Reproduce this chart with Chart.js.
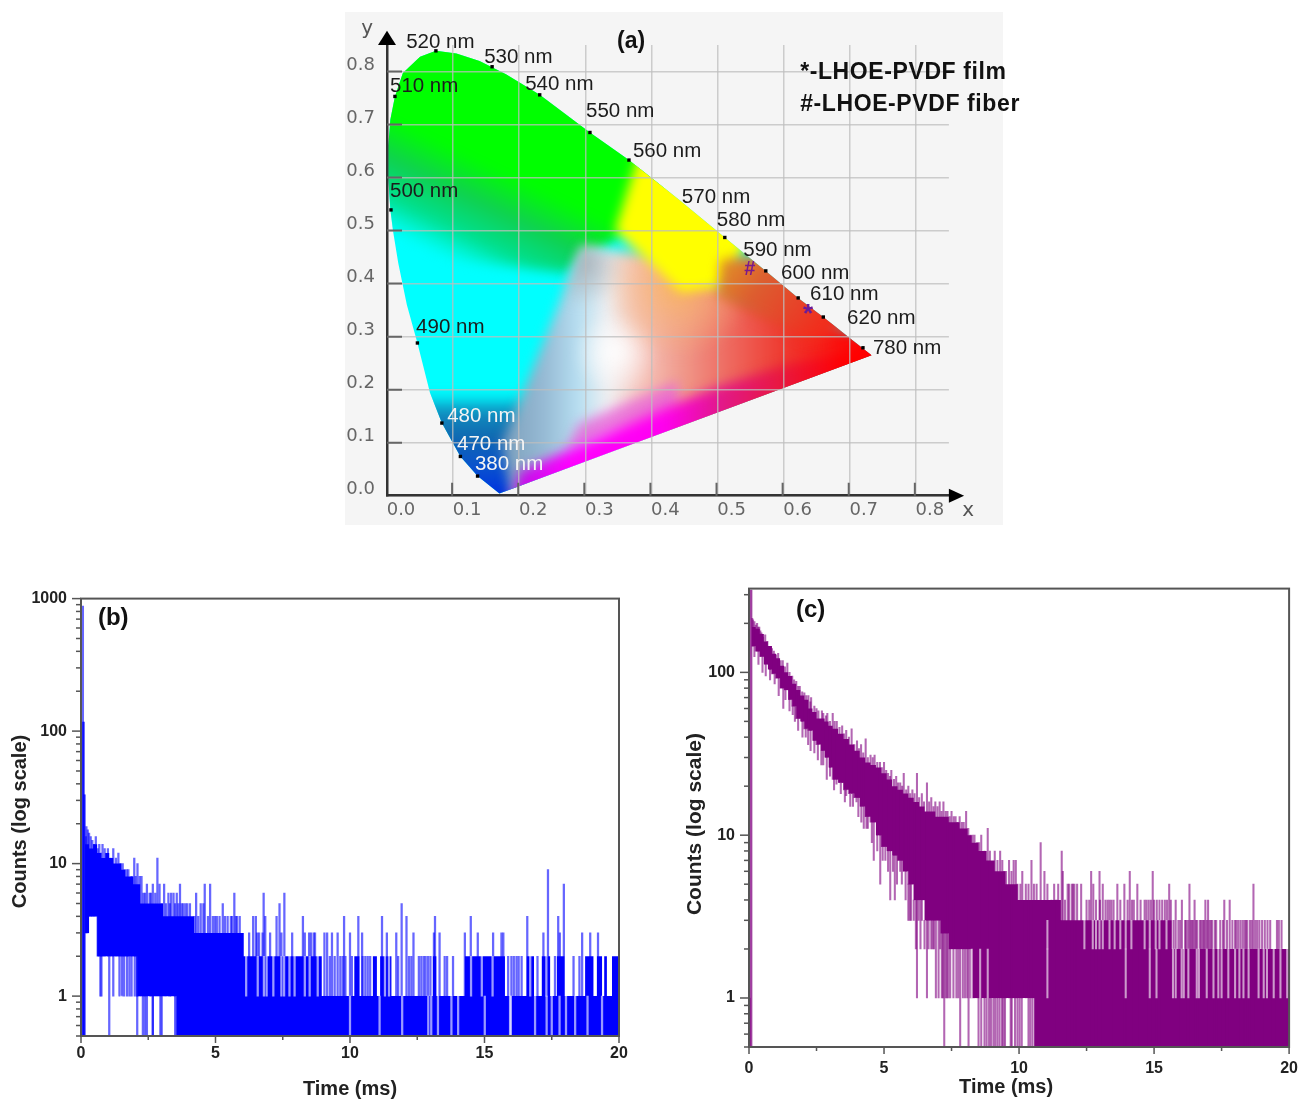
<!DOCTYPE html>
<html>
<head>
<meta charset="utf-8">
<title>CIE diagram and decay curves</title>
<script src="https://cdn.jsdelivr.net/npm/chart.js@4/dist/chart.umd.js"></script>
<style>
  html, body { margin: 0; padding: 0; background: #ffffff; }
  body { position: relative; width: 1299px; height: 1100px; overflow: hidden; }
  canvas { position: absolute; filter: blur(0.5px); }
  #cieBack { position: absolute; left: 345px; top: 12px; width: 658px; height: 513px; background: #f5f5f5; }
  #cieChart { left: 345px; top: 12px; }
  #decayFiber { left: 0; top: 575px; }
  #decayFilm { left: 680px; top: 565px; }
</style>
</head>
<body>
<div id="cieBack"></div>
<canvas id="cieChart" width="700" height="513"></canvas>
<canvas id="decayFiber" width="650" height="525"></canvas>
<canvas id="decayFilm" width="630" height="535"></canvas>
<script>
// (a) CIE diagram in chromaticity coordinates
const locusX = [0.170, 0.137, 0.111, 0.083, 0.065, 0.046, 0.030, 0.017, 0.009, 0.005, 0.002, 0.002, 0.005, 0.012, 0.024, 0.050, 0.074, 0.105, 0.140, 0.180, 0.231, 0.307, 0.366, 0.440, 0.511, 0.573, 0.622, 0.660, 0.733];
const locusY = [0.004, 0.037, 0.074, 0.137, 0.194, 0.288, 0.360, 0.439, 0.500, 0.540, 0.600, 0.660, 0.709, 0.753, 0.797, 0.828, 0.839, 0.834, 0.820, 0.795, 0.756, 0.685, 0.633, 0.560, 0.487, 0.424, 0.373, 0.337, 0.265];
const dotX = [0.137, 0.111, 0.083, 0.046, 0.006, 0.012, 0.074, 0.159, 0.231, 0.307, 0.366, 0.511, 0.573, 0.622, 0.660, 0.720];
const dotY = [0.037, 0.074, 0.137, 0.288, 0.539, 0.753, 0.839, 0.809, 0.756, 0.685, 0.633, 0.487, 0.424, 0.373, 0.337, 0.279];
const nmNames = ["510 nm", "500 nm", "490 nm", "520 nm", "530 nm", "540 nm", "550 nm", "560 nm", "570 nm", "580 nm", "590 nm", "600 nm", "610 nm", "620 nm", "780 nm"];
const nmX = [0.0045, 0.0045, 0.044, 0.029, 0.147, 0.209, 0.301, 0.372, 0.446, 0.499, 0.539, 0.596, 0.640, 0.696, 0.735];
const nmY = [0.775, 0.577, 0.322, 0.858, 0.830, 0.779, 0.728, 0.654, 0.567, 0.524, 0.467, 0.424, 0.384, 0.339, 0.281];
const nmWhiteNames = ["480 nm", "470 nm", "380 nm"];
const nmWhiteX = [0.091, 0.106, 0.133];
const nmWhiteY = [0.154, 0.101, 0.062];
const cieTicks = [0, 0.1, 0.2, 0.3, 0.4, 0.5, 0.6, 0.7, 0.8];
const filmPoint = [0.637, 0.350];
const fiberPoint = [0.549, 0.431];

// colour patches of the diagram
const baseX = [-0.1, -0.1, 0.9, 0.9];
const baseY = [-0.1, 0.95, 0.95, -0.1];
const greenX = [-0.1, -0.1, 0.42, 0.42, 0.33, 0.27];
const greenY = [0.47, 0.95, 0.95, 0.55, 0.47, 0.42];
const blueX = [0.02, 0.13, 0.21, 0.205, 0.11];
const blueY = [0.19, -0.05, -0.05, 0.19, 0.19];
const wedgeX = [0.295, 0.40, 0.53, 0.80, 0.80, 0.19, 0.175];
const wedgeY = [0.47, 0.45, 0.38, 0.27, 0.15, -0.02, 0.10];
const yellowX = [0.345, 0.385, 0.56, 0.515, 0.445];
const yellowY = [0.50, 0.66, 0.53, 0.395, 0.385];
const orangeX = [0.505, 0.60, 0.72, 0.64, 0.50];
const orangeY = [0.445, 0.46, 0.33, 0.29, 0.375];
const magentaX = [0.19, 0.20, 0.29, 0.42, 0.50, 0.60, 0.70, 0.80, 0.80, 0.17];
const magentaY = [0.0, 0.045, 0.095, 0.165, 0.205, 0.245, 0.27, 0.30, 0.1, -0.05];
const pinkX = [0.27, 0.29, 0.36, 0.44, 0.44, 0.36];
const pinkY = [0.085, 0.135, 0.175, 0.215, 0.16, 0.12];

// (b) LHOE-PVDF fiber decay: solid band of the trace, counts between bandLow and bandTop
const fiberBandT = [0.15, 0.3, 0.45, 0.6, 0.75, 0.9, 1.05, 1.2, 1.35, 1.5, 1.65, 1.8, 1.95, 2.1, 2.2, 2.9, 3.05, 3.55, 4.2, 6.05, 8.95, 10.16, 10.35, 10.85, 11.0, 11.12, 11.54, 13.08, 13.21, 14.27, 15.76, 16.57, 16.84, 17.13, 17.44, 17.69, 17.97, 18.74, 19.05, 19.18, 19.37, 19.45, 19.55, 19.74, 20];
const fiberBandTop = [14, 13, 14, 12, 11, 12, 11, 10, 10, 9, 8, 8, 7, 7, 5, 5, 4, 4, 3, 2, 1, 2, 1, 2, 1, 2, 1, 2, 1, 2, 1, 2, 1, 2, 1, 2, 1, 2, 1, 2, 1, 2, 1, 2, 2];
const fiberBandLow = [3, 4, 4, 2, 2, 2, 2, 2, 2, 2, 2, 2, 2, 1, 1, 1, 1, 0.5, 0.5, 0.5, 0.5, 0.5, 0.5, 0.5, 0.5, 0.5, 0.5, 0.5, 0.5, 0.5, 0.5, 0.5, 0.5, 0.5, 0.5, 0.5, 0.5, 0.5, 0.5, 0.5, 0.5, 0.5, 0.5, 0.5, 0.5];
// single channels standing above the band
const fiberSpikeT = [0.07, 0.08, 0.1, 0.12, 0.13, 0.2, 0.3, 0.42, 0.55, 0.68, 0.8, 1.0, 1.2, 1.39, 1.55, 1.7, 1.98, 2.1, 2.25, 2.45, 2.55, 2.67, 2.84, 2.92, 3.09, 3.25, 3.35, 3.44, 3.56, 3.68, 3.8, 3.95, 4.28, 4.45, 4.55, 4.6, 4.8, 5.05, 5.15, 5.27, 5.45, 5.57, 5.7, 5.8, 5.9, 6.25, 6.4, 6.5, 6.55, 6.75, 6.79, 6.85, 7.03, 7.27, 7.38, 7.45, 7.56, 8.25, 8.32, 8.48, 8.55, 8.65, 8.7, 9.05, 9.15, 9.33, 9.54, 9.78, 10, 10.31, 10.45, 11.19, 11.37, 11.72, 11.92, 12.1, 12.36, 13.12, 13.16, 13.33, 14.27, 14.49, 14.75, 15.32, 15.63, 15.7, 16.59, 17.19, 17.36, 17.74, 17.8, 17.95, 18.63, 18.93, 19.22, 9.25, 9.43, 9.64, 9.73, 9.83, 10.07, 10.47, 10.57, 10.66, 10.75, 11.79, 12.19, 12.28, 12.56, 12.65, 12.74, 12.81, 12.9, 12.99, 13.52, 13.61, 13.83, 15.88, 16.0, 16.09, 16.19, 16.27, 16.38, 16.97, 17.62, 18.31, 18.53];
const fiberSpikeTop = [880, 117, 117, 33, 33, 19, 17, 15, 16, 14, 14, 13, 13, 12, 10, 9, 11, 10, 8, 7, 6, 7, 11, 7, 7, 6, 6, 6, 6, 7, 5, 5, 6, 5, 5, 7, 7, 4, 4, 5, 4, 4, 6, 4, 4, 3, 4, 4, 3, 3, 6, 4, 3, 4, 5, 3, 6, 4, 3, 3, 3, 3, 3, 3, 3, 3, 3, 4, 3, 4, 3, 4, 3, 3, 5, 4, 3, 3, 4, 3, 3, 4, 3, 3, 3, 3, 4, 3, 9, 4, 3, 7, 3, 3, 3, 2, 2, 2, 2, 2, 2, 2, 2, 2, 2, 2, 2, 2, 2, 2, 2, 2, 2, 2, 2, 2, 2, 2, 2, 2, 2, 2, 2, 2, 2, 2, 2];
const fiberEdgeT = [0.18, 0.25, 0.36, 0.48, 0.62, 0.74, 0.88, 1.1, 1.3, 1.47, 1.62, 1.76, 1.88, 2.03, 2.18, 2.32, 2.38, 2.6, 2.76, 3.0, 3.16, 3.3, 3.5, 3.62, 3.74, 3.88, 4.05, 4.22, 4.36, 4.72, 4.9, 4.98, 5.35, 5.62, 5.75, 6.62, 7.85];
const fiberEdgeTop = [16, 18, 16, 14, 13, 12, 13, 11, 11, 10, 9, 9, 8, 8, 8, 6, 6, 6, 6, 5, 5, 5, 5, 5, 5, 5, 5, 4, 4, 4, 4, 4, 4, 4, 4, 3, 3];
// channels dropping below the band
const fiberDipT = [0.72, 0.76, 1.05, 1.2, 1.43, 1.52, 1.6, 1.71, 1.8, 1.88, 2.0, 2.09, 2.09, 2.3, 2.38, 2.45, 2.67, 2.67, 2.95, 3.0, 3.5];
const fiberDipLow = [1, 1, 0.5, 1, 1, 1, 1, 1, 1, 1, 1, 1, 0.5, 0.5, 0.5, 0.5, 0.5, 0.5, 0.5, 0.5, 0.5];
// empty channels cut into the band
const fiberGapMidT = [6.14, 6.57, 6.8, 6.9, 7.15, 7.45, 7.55, 7.75, 7.94, 8.32, 8.5, 8.8, 11.3, 11.45, 14.5, 14.9, 15.3, 16.7, 17.3];
const fiberGapBaseT = [1.35, 1.5, 10.0, 11.1, 11.94, 12.91, 13.02, 13.27, 13.77, 14.02, 15.01, 15.95, 15.98, 16.88, 17.31, 17.5, 17.79, 18.03, 18.37, 18.83, 19.37];

// (c) LHOE-PVDF film decay
const filmBandT = [0.1, 0.25, 0.4, 0.55, 0.7, 0.85, 1.0, 1.15, 1.3, 1.45, 1.6, 1.75, 1.9, 2.05, 2.2, 2.35, 2.5, 2.65, 2.8, 2.95, 3.1, 3.3, 3.5, 3.7, 3.9, 4.1, 4.3, 4.5, 4.7, 4.9, 5.1, 5.3, 5.5, 5.7, 5.9, 6.1, 6.3, 6.5, 6.7, 6.9, 7.1, 7.4, 7.8, 8.1, 8.25, 8.5, 8.8, 9.1, 9.5, 9.95, 10.56, 10.85, 11.55, 15.65, 20];
const filmBandTop = [190, 185, 172, 155, 145, 130, 122, 110, 100, 95, 85, 78, 72, 68, 60, 57, 52, 52, 50, 47, 45, 42, 39, 36, 33, 30, 28, 27, 26, 24, 22, 20, 19, 18, 17, 16, 15, 14, 14, 13, 13, 12, 11, 10, 9, 8, 7, 6, 5, 4, 4, 4, 3, 2, 2];
const filmBandLow = [145, 135, 125, 112, 104, 98, 92, 80, 78, 68, 62, 52, 50, 45, 44, 38, 36, 33, 30, 26, 22, 21, 19, 18, 17, 15, 13, 12, 10, 8.5, 8, 7.5, 7, 6, 5, 4, 4, 3, 3, 3, 2.5, 2, 2, 2, 1, 1, 1, 1, 1, 1, 0.5, 0.5, 0.5, 0.5, 0.5];
const filmSpikeT = [0.03, 0.06, 0.09, 0.15, 0.2, 0.3, 0.38, 0.46, 0.6, 0.78, 0.92, 1.08, 1.25, 1.42, 1.6, 1.75, 1.88, 2.05, 2.2, 2.3, 2.5, 2.7, 2.9, 3.1, 3.25, 3.45, 3.6, 3.8, 4.0, 4.15, 4.32, 4.5, 4.65, 4.85, 5.0, 5.15, 5.27, 5.45, 5.6, 5.73, 5.9, 6.05, 6.22, 6.4, 6.59, 6.75, 6.9, 7.06, 7.2, 7.35, 7.5, 7.65, 7.8, 7.95, 8.04, 8.2, 8.35, 8.6, 8.84, 9.1, 9.3, 9.44, 9.63, 9.8, 9.88, 10.12, 10.46, 10.8, 10.94, 11.05, 11.3, 11.45, 11.58, 11.62, 11.8, 11.85, 11.95, 12.0, 12.05, 12.15, 12.3, 12.67, 12.75, 12.85, 12.98, 13.1, 13.2, 13.35, 13.5, 13.64, 13.75, 13.9, 14.1, 14.25, 14.38, 14.5, 14.65, 14.8, 14.95, 15.1, 15.3, 15.56, 15.8, 16.03, 16.25, 16.31, 16.4, 16.5, 16.6, 16.85, 16.9, 17.0, 17.1, 17.25, 17.6, 17.8, 18.0, 18.12, 18.2, 18.35, 18.45, 18.55, 18.68, 18.75, 19.1, 19.55, 19.72];
const filmSpikeTop = [1, 320, 320, 210, 205, 200, 190, 175, 170, 140, 135, 131, 118, 114, 95, 88, 82, 75, 72, 70, 60, 58, 56, 56, 50, 47, 44, 45, 38, 36, 39, 31, 31, 28, 28, 24, 25, 23, 21, 24, 20, 19, 24, 18, 21, 17, 16, 16, 16, 14, 14, 13, 13, 12, 14, 10, 10, 10, 11, 8, 8, 6, 7, 7, 7, 6, 7, 9, 6, 5, 5, 5, 8, 6, 5, 5, 5, 5, 5, 5, 5, 6, 5, 4, 6, 5, 4, 4, 4, 5, 4, 5, 6, 4, 5, 4, 4, 4, 6, 4, 4, 5, 4, 4, 3, 5, 3, 4, 3, 3, 4, 4, 3, 3, 4, 4, 3, 3, 3, 3, 3, 3, 5, 3, 3, 3, 3];
const filmEdgeT = [0.12, 0.25, 0.34, 0.42, 0.52, 0.68, 0.85, 1.0, 1.17, 1.33, 1.5, 1.67, 1.82, 1.97, 2.12, 2.27, 2.42, 2.57, 2.75, 2.85, 3.0, 3.17, 3.35, 3.52, 3.7, 3.9, 4.07, 4.23, 4.4, 4.58, 4.75, 4.92, 5.08, 5.22, 5.37, 5.52, 5.67, 5.82, 5.97, 6.13, 6.3, 6.48, 6.67, 6.83, 6.98, 7.13, 7.28, 7.43, 7.58, 7.72, 7.88, 8.12, 8.28, 8.45, 8.52, 8.72, 8.92, 9.2, 9.38, 9.52, 9.72, 9.94, 10.05, 10.25, 10.35, 10.55, 10.65, 11.2, 11.35, 11.4, 11.7, 12.5, 12.6, 13.0, 13.28, 13.42, 14.02, 14.18, 14.72, 14.88, 15.0, 15.2, 15.4, 15.48, 15.62, 15.72, 15.9, 15.97, 16.15, 16.18, 16.35, 16.45, 16.55, 16.7, 16.75, 16.8, 16.95, 17.05, 17.15, 17.3, 17.45, 17.55, 17.7, 17.9, 18.05, 18.28, 18.4, 18.62, 18.82, 18.9, 19.0, 19.2, 19.3, 19.62];
const filmEdgeTop = [215, 195, 190, 180, 165, 155, 140, 128, 118, 108, 100, 90, 82, 76, 72, 66, 62, 58, 56, 54, 50, 50, 46, 42, 40, 36, 34, 32, 30, 30, 28, 26, 25, 23, 22, 21, 20, 19, 18, 18, 17, 16, 16, 15, 15, 14, 14, 13, 13, 12, 12, 11, 10, 9, 9, 8, 8, 7, 7, 6, 6, 5, 5, 5, 5, 5, 5, 4, 4, 4, 4, 4, 4, 4, 4, 4, 4, 4, 4, 4, 4, 4, 4, 4, 4, 3, 3, 3, 3, 3, 3, 3, 3, 3, 3, 3, 3, 3, 3, 3, 3, 3, 3, 3, 3, 3, 3, 3, 3, 3, 3, 3, 3, 3];
const filmDipT = [1.27, 1.7, 2.19, 2.68, 3.24, 3.6, 3.98, 4.16, 4.4, 4.62, 4.86, 5.05, 5.23, 5.4, 5.6, 5.9, 6.0, 6.18, 6.22, 6.4, 6.59, 6.8, 6.92, 7.02, 7.14, 7.23, 7.33, 7.57, 7.82, 8.0, 8.13, 8.5, 8.6, 8.72, 8.8, 8.89, 8.96, 9.05, 9.12, 9.2, 9.28, 9.37, 9.42, 9.48, 9.69, 9.73, 9.85, 9.94, 10.02, 10.1, 10.35, 10.42, 10.5];
const filmDipLow = [60, 50, 36, 27, 20.6, 17.5, 16, 12, 11, 7, 5, 7, 4, 4, 6, 3, 3, 2, 1, 3, 1, 2, 1, 1, 1, 0.5, 1, 1, 0.5, 1, 0.5, 0.5, 0.5, 0.5, 0.5, 0.5, 0.5, 0.5, 0.5, 0.5, 0.5, 0.5, 0.5, 0.5, 0.5, 0.5, 0.5, 0.5, 0.5, 0.5, 0.5, 0.5, 0.5];
const filmEdgeDipT = [0.2, 0.35, 0.5, 0.62, 0.78, 0.95, 1.1, 1.35, 1.5, 1.62, 1.82, 1.98, 2.1, 2.28, 2.42, 2.55, 2.75, 2.88, 3.0, 3.15, 3.4, 3.55, 3.75, 3.85, 4.05, 4.25, 4.35, 4.55, 4.75, 4.95, 5.15, 5.33, 5.48, 5.66, 5.8, 5.95, 6.1, 6.28, 6.35, 6.5, 6.65, 6.75, 6.85, 7.08, 7.18, 7.28, 7.38, 7.45, 7.68, 7.75, 7.92, 8.08, 8.2];
const filmEdgeDipLow = [125, 112, 100, 95, 90, 85, 72, 68, 58, 55, 44, 40, 40, 33, 32, 29, 27, 22, 23, 19, 18, 16, 15, 15, 13, 11, 11, 9, 8, 7, 6, 6, 5, 5, 4, 3, 3, 3, 2, 2, 2, 2, 2, 2, 1, 1, 1, 1, 1, 1, 1, 1, 1];
const filmGapUpperT = [11.05, 12.42, 12.73, 12.85, 12.98, 13.1, 13.35, 13.54, 13.75, 13.95, 14.16, 14.65, 14.84, 15.06, 15.2, 15.46];
const filmGapMidT = [8.25, 8.56, 8.84, 11.05, 13.95, 14.84, 15.09, 15.7, 15.8, 16.02, 16.1, 16.27, 16.58, 16.66, 16.95, 17.2, 17.38, 17.5, 17.75, 18.0, 18.16, 18.31, 18.5, 18.87, 19.06, 19.18, 19.43, 19.68, 19.93];

const sansFont = "'Liberation Sans', Arial, sans-serif";

function toPoints(xs, ys) {
  return xs.map((x, i) => ({ x: x, y: ys[i] }));
}

// last band value at or before t, axis minimum before the band starts
function bandLowAt(t, bandT, bandLow) {
  let low = 0.5;
  bandT.forEach((bt, i) => { if (bt <= t) low = bandLow[i]; });
  return low;
}

function linearFill(from, to, stops) {
  return (context) => {
    const chart = context.chart;
    if (!chart.chartArea) return stops[0][1];
    const gradient = chart.ctx.createLinearGradient(
      chart.scales.x.getPixelForValue(from[0]), chart.scales.y.getPixelForValue(from[1]),
      chart.scales.x.getPixelForValue(to[0]), chart.scales.y.getPixelForValue(to[1]));
    stops.forEach((s) => gradient.addColorStop(s[0], s[1]));
    return gradient;
  };
}

function radialFill(center, radius, stops) {
  return (context) => {
    const chart = context.chart;
    if (!chart.chartArea) return stops[0][1];
    const cx = chart.scales.x.getPixelForValue(center[0]);
    const cy = chart.scales.y.getPixelForValue(center[1]);
    const gradient = chart.ctx.createRadialGradient(cx, cy, 0, cx, cy, radius);
    stops.forEach((s) => gradient.addColorStop(s[0], s[1]));
    return gradient;
  };
}

function patch(xs, ys, color) {
  return {
    type: "line",
    data: toPoints(xs, ys),
    borderWidth: 0,
    pointRadius: 0,
    tension: 0,
    fill: "shape",
    backgroundColor: color
  };
}

function drawText(ctx, text, x, y, font, color, align, spacing) {
  ctx.save();
  ctx.font = font;
  ctx.fillStyle = color;
  ctx.textAlign = align || "left";
  ctx.textBaseline = "middle";
  ctx.letterSpacing = spacing || "0px";
  ctx.fillText(text, x, y + 2);
  ctx.restore();
}

// clip and soften the colour patches to the spectral locus; dataset 0 (the dots) draws last, outside of it
const locusClip = {
  id: "locusClip",
  beforeDatasetsDraw(chart) {
    const ctx = chart.ctx;
    const { x, y } = chart.scales;
    ctx.save();
    ctx.beginPath();
    locusX.forEach((lx, i) => {
      ctx.lineTo(x.getPixelForValue(lx), y.getPixelForValue(locusY[i]));
    });
    ctx.closePath();
    ctx.clip();
    ctx.filter = "blur(6px)";
  },
  beforeDatasetDraw(chart, args) {
    if (args.index === 0) chart.ctx.restore();
  }
};

const cieMarks = {
  id: "cieMarks",
  afterDraw(chart) {
    const ctx = chart.ctx;
    const { x, y } = chart.scales;
    const x0 = x.getPixelForValue(0);
    const y0 = y.getPixelForValue(0);
    ctx.save();
    ctx.strokeStyle = "#666666";
    ctx.lineWidth = 2;
    cieTicks.forEach((v) => {
      if (v === 0) return;
      ctx.beginPath();
      ctx.moveTo(x.getPixelForValue(v) - 1, y0);
      ctx.lineTo(x.getPixelForValue(v) - 1, y0 - 13);
      ctx.moveTo(x0, y.getPixelForValue(v));
      ctx.lineTo(x0 + 15, y.getPixelForValue(v));
      ctx.stroke();
    });
    // axis arrows
    ctx.fillStyle = "#000000";
    ctx.beginPath();
    ctx.moveTo(x0, y.getPixelForValue(0.877));
    ctx.lineTo(x0 - 9, y.getPixelForValue(0.85));
    ctx.lineTo(x0 + 9, y.getPixelForValue(0.85));
    ctx.closePath();
    ctx.fill();
    ctx.beginPath();
    ctx.moveTo(x.getPixelForValue(0.873), y0);
    ctx.lineTo(x.getPixelForValue(0.85), y0 - 7);
    ctx.lineTo(x.getPixelForValue(0.85), y0 + 7);
    ctx.closePath();
    ctx.fill();
    ctx.restore();

    const nmFont = "20.5px " + sansFont;
    nmNames.forEach((name, i) => {
      drawText(ctx, name, x.getPixelForValue(nmX[i]), y.getPixelForValue(nmY[i]), nmFont, "#1c1c1c");
    });
    nmWhiteNames.forEach((name, i) => {
      drawText(ctx, name, x.getPixelForValue(nmWhiteX[i]), y.getPixelForValue(nmWhiteY[i]), nmFont, "#f4f4f4");
    });
    const axisFont = "20px 'DejaVu Sans', sans-serif";
    drawText(ctx, "y", x.getPixelForValue(-0.03), y.getPixelForValue(0.884), axisFont, "#555555", "center");
    drawText(ctx, "x", x.getPixelForValue(0.879), y.getPixelForValue(-0.025), axisFont, "#555555", "center");
    drawText(ctx, "(a)", x.getPixelForValue(0.348), y.getPixelForValue(0.86), "bold 23px " + sansFont, "#111111");
    const noteFont = "bold 23px " + sansFont;
    drawText(ctx, "*-LHOE-PVDF film", x.getPixelForValue(0.625), y.getPixelForValue(0.801), noteFont, "#111111", "left", "0.6px");
    drawText(ctx, "#-LHOE-PVDF fiber", x.getPixelForValue(0.625), y.getPixelForValue(0.741), noteFont, "#111111", "left", "0.6px");
    drawText(ctx, "*", x.getPixelForValue(filmPoint[0]), y.getPixelForValue(filmPoint[1]) + 3, "bold 26px " + sansFont, "#6a1b9a", "center");
    drawText(ctx, "#", x.getPixelForValue(fiberPoint[0]), y.getPixelForValue(fiberPoint[1]), "bold 20px " + sansFont, "#7a1a8c", "center");
  }
};

new Chart(document.getElementById("cieChart"), {
  type: "line",
  data: {
    datasets: [
      {
        type: "scatter",
        data: toPoints(dotX, dotY),
        pointStyle: "rect",
        pointRadius: 2.4,
        pointBackgroundColor: "#000000",
        pointBorderWidth: 0,
        showLine: false,
        clip: false
      },
      patch(magentaX, magentaY, linearFill([0.2, 0], [0.72, 0], [
        [0, "#c010e8"], [0.15, "#ff00ff"], [0.42, "#ff00f0"], [0.58, "#e2188c"], [0.76, "#e81840"], [0.95, "#ff0000"], [1, "#ff0000"]
      ])),
      patch(pinkX, pinkY, "rgba(232, 100, 216, 0.8)"),
      patch(orangeX, orangeY, linearFill([0.52, 0.44], [0.66, 0.30], [
        [0, "#e08a28"], [0.3, "#dc5e30"], [0.7, "#e84028"], [1, "#f42818"]
      ])),
      patch(yellowX, yellowY, "#ffff00"),
      patch(baseX, baseY, radialFill([0.44, 0.40], 75, [
        [0, "rgba(250, 185, 90, 0.9)"], [0.5, "rgba(245, 180, 120, 0.55)"], [1, "rgba(245, 180, 120, 0)"]
      ])),
      patch(baseX, baseY, radialFill([0.345, 0.27], 42, [
        [0, "rgba(255, 255, 255, 0.95)"], [1, "rgba(255, 255, 255, 0)"]
      ])),
      patch(wedgeX, wedgeY, radialFill([0.295, 0.44], 45, [
        [0, "rgba(165, 170, 175, 0.85)"], [1, "rgba(165, 170, 175, 0)"]
      ])),
      patch(wedgeX, wedgeY, linearFill([0.17, 0], [0.72, 0], [
        [0, "#7a9cb8"], [0.13, "#98bcd6"], [0.22, "#b8e0f2"], [0.30, "#f0f0f2"], [0.38, "#f6c8c0"], [0.50, "#f09a8c"], [0.63, "#ee6a60"], [0.78, "#ee3a30"], [1, "#ff0000"]
      ])),
      patch(blueX, blueY, linearFill([0, 0.2], [0, 0], [
        [0, "rgba(0, 200, 225, 0)"], [0.2, "#1090c0"], [0.45, "#1068b0"], [0.75, "#0850d0"], [1, "#0030e0"]
      ])),
      patch(greenX, greenY, linearFill([0.03, 0.48], [0.098, 0.658], [
        [0, "rgba(0, 235, 170, 0)"], [0.3, "#00e090"], [0.64, "#10d050"], [1, "#00ff00"]
      ])),
      patch(baseX, baseY, "#00ffff")
    ]
  },
  options: {
    responsive: false,
    animation: false,
    layout: { padding: { top: 33, right: 96.1, left: 0, bottom: 0 } },
    plugins: { legend: { display: false }, tooltip: { enabled: false } },
    scales: {
      x: {
        type: "linear",
        min: 0,
        max: 0.85,
        afterFit(scale) { scale.height = 29.3; },
        afterBuildTicks(scale) { scale.ticks = cieTicks.map((v) => ({ value: v })); },
        border: { color: "#333333", width: 2.5, z: 2 },
        grid: { color: "rgba(190, 190, 190, 0.75)", lineWidth: 1.5, drawTicks: false, z: 1 },
        ticks: {
          color: "#666666",
          font: { family: "'DejaVu Sans', sans-serif", size: 18 },
          padding: 4,
          labelOffset: 14,
          maxRotation: 0,
          autoSkip: false,
          callback(value) { return Number(value).toFixed(1); }
        }
      },
      y: {
        type: "linear",
        min: 0,
        max: 0.85,
        afterFit(scale) { scale.width = 42; },
        afterBuildTicks(scale) { scale.ticks = cieTicks.map((v) => ({ value: v })); },
        border: { color: "#333333", width: 2.5, z: 2 },
        grid: { color: "rgba(190, 190, 190, 0.75)", lineWidth: 1.5, drawTicks: false, z: 1 },
        ticks: {
          color: "#666666",
          font: { family: "'DejaVu Sans', sans-serif", size: 18 },
          padding: 12,
          labelOffset: -6,
          autoSkip: false,
          callback(value) { return Number(value).toFixed(1); }
        }
      }
    }
  },
  plugins: [locusClip, cieMarks]
});

// frame, tick marks and titles of a decay panel, ticks long at decades and multiples of 5, short between
const panelFrame = {
  id: "panelFrame",
  afterDraw(chart, args, opts) {
    const ctx = chart.ctx;
    const area = chart.chartArea;
    const { x, y } = chart.scales;
    ctx.save();
    ctx.strokeStyle = "#555555";
    ctx.lineWidth = 2;
    ctx.strokeRect(area.left, area.top, area.width, area.height);
    ctx.lineWidth = 1.5;
    y.ticks.forEach((tick) => {
      const v = tick.value;
      const exp = Math.floor(Math.log10(v) + 1e-9);
      const lead = v / Math.pow(10, exp);
      if (Math.abs(lead - Math.round(lead)) > 1e-6) return;
      const len = Math.abs(lead - 1) < 1e-6 ? 9 : 5;
      const py = y.getPixelForValue(v);
      ctx.beginPath();
      ctx.moveTo(area.left, py);
      ctx.lineTo(area.left - len, py);
      ctx.stroke();
    });
    x.ticks.forEach((tick) => {
      const len = tick.value % 5 === 0 ? 7 : 4;
      const px = x.getPixelForValue(tick.value);
      ctx.beginPath();
      ctx.moveTo(px, area.bottom);
      ctx.lineTo(px, area.bottom + len);
      ctx.stroke();
    });
    ctx.restore();
    drawText(ctx, opts.label, x.getPixelForValue(opts.labelAt[0]), y.getPixelForValue(opts.labelAt[1]), "bold 24px " + sansFont, "#111111");
    drawText(ctx, "Time (ms)", x.getPixelForValue(opts.xTitleAt), area.bottom + opts.xTitleGap, "bold 20px " + sansFont, "#222222", "center");
    ctx.save();
    ctx.translate(opts.yTitleLeft, y.getPixelForValue(opts.yTitleAt));
    ctx.rotate(-Math.PI / 2);
    drawText(ctx, "Counts (log scale)", 0, 0, "bold " + opts.yTitleSize + "px " + sansFont, "#222222", "center");
    ctx.restore();
  }
};

function decayChart(canvasId, panel) {
  const channel = { type: "bar", grouped: false, barThickness: panel.channelWidth, borderWidth: 0 };
  const spikes = panel.spikeT.map((t, i) => ({
    x: t, y: [bandLowAt(t, panel.bandT, panel.bandLow), panel.spikeTop[i]]
  }));
  const dips = panel.dipT.map((t, i) => ({
    x: t, y: [panel.dipLow[i], bandLowAt(t, panel.bandT, panel.bandLow)]
  }));
  const gaps = panel.gapT.map((t, i) => ({ x: t, y: [panel.gapLow[i], panel.gapHigh[i]] }));

  new Chart(document.getElementById(canvasId), {
    type: "line",
    data: {
      datasets: [
        Object.assign({}, channel, { data: gaps, backgroundColor: "rgba(255, 255, 255, 0.6)" }),
        Object.assign({}, channel, { data: spikes, backgroundColor: panel.lightColor }),
        Object.assign({}, channel, { data: dips, backgroundColor: panel.lightColor }),
        {
          data: toPoints(panel.bandT, panel.bandTop),
          stepped: true,
          borderWidth: 0,
          pointRadius: 0,
          fill: "+1",
          backgroundColor: panel.color
        },
        {
          data: toPoints(panel.bandT, panel.bandLow),
          stepped: true,
          borderWidth: 0,
          pointRadius: 0,
          fill: false
        }
      ]
    },
    options: {
      responsive: false,
      animation: false,
      layout: { padding: { top: 13, right: panel.rightPad, left: 0, bottom: 0 } },
      plugins: {
        legend: { display: false },
        tooltip: { enabled: false },
        panelFrame: {
          label: panel.label,
          labelAt: panel.labelAt,
          xTitleAt: panel.xTitleAt,
          xTitleGap: panel.xTitleGap,
          yTitleAt: panel.yTitleAt,
          yTitleLeft: panel.yTitleLeft,
          yTitleSize: panel.yTitleSize
        }
      },
      scales: {
        x: {
          type: "linear",
          offset: false,
          min: 0,
          max: 20,
          afterFit(scale) { scale.height = panel.xHeight; },
          grid: { display: false, offset: false, drawTicks: false },
          border: { display: false },
          ticks: {
            stepSize: 2.5,
            autoSkip: false,
            maxRotation: 0,
            padding: panel.xPad,
            color: "#222222",
            font: { family: sansFont, size: 16, weight: "bold" },
            callback(value) { return value % 5 === 0 ? String(value) : ""; }
          }
        },
        y: {
          type: "logarithmic",
          min: 0.5,
          max: panel.yMax,
          afterFit(scale) { scale.width = panel.yWidth; },
          grid: { display: false, drawTicks: false },
          border: { display: false },
          ticks: {
            autoSkip: false,
            padding: 14,
            color: "#222222",
            font: { family: sansFont, size: 16, weight: "bold" },
            callback(value) {
              const e = Math.log10(value);
              return Math.abs(e - Math.round(e)) < 1e-6 && value >= 1 ? String(Math.round(value)) : "";
            }
          }
        }
      }
    },
    plugins: [panelFrame]
  });
}

decayChart("decayFiber", {
  label: "(b)",
  labelAt: [0.63, 731],
  color: "#0000ff",
  lightColor: "rgba(0, 0, 255, 0.6)",
  channelWidth: 1.6,
  yMax: 1000,
  yWidth: 81,
  xHeight: 64,
  rightPad: 31,
  xPad: 8,
  xTitleAt: 10,
  xTitleGap: 51,
  yTitleAt: 20.8,
  yTitleLeft: 18,
  yTitleSize: 20,
  bandT: fiberBandT,
  bandTop: fiberBandTop,
  bandLow: fiberBandLow,
  spikeT: fiberSpikeT.concat(fiberEdgeT),
  spikeTop: fiberSpikeTop.concat(fiberEdgeTop),
  dipT: fiberDipT,
  dipLow: fiberDipLow,
  gapT: fiberGapMidT.concat(fiberGapBaseT),
  gapLow: fiberGapMidT.map(() => 1).concat(fiberGapBaseT.map(() => 0.5)),
  gapHigh: fiberGapMidT.map(() => 2).concat(fiberGapBaseT.map(() => 1))
});

decayChart("decayFilm", {
  label: "(c)",
  labelAt: [1.74, 247],
  color: "#800080",
  lightColor: "rgba(128, 0, 128, 0.6)",
  channelWidth: 1.4,
  yMax: 327,
  yWidth: 69,
  xHeight: 53,
  rightPad: 0,
  xPad: 12,
  xTitleAt: 9.52,
  xTitleGap: 38,
  yTitleAt: 11.7,
  yTitleLeft: 13,
  yTitleSize: 21,
  bandT: filmBandT,
  bandTop: filmBandTop,
  bandLow: filmBandLow,
  spikeT: filmSpikeT.concat(filmEdgeT),
  spikeTop: filmSpikeTop.concat(filmEdgeTop),
  dipT: filmDipT.concat(filmEdgeDipT),
  dipLow: filmDipLow.concat(filmEdgeDipLow),
  gapT: filmGapUpperT.concat(filmGapMidT),
  gapLow: filmGapUpperT.map(() => 2).concat(filmGapMidT.map(() => 1)),
  gapHigh: filmGapUpperT.map(() => 3).concat(filmGapMidT.map(() => 2))
});
</script>
</body>
</html>
